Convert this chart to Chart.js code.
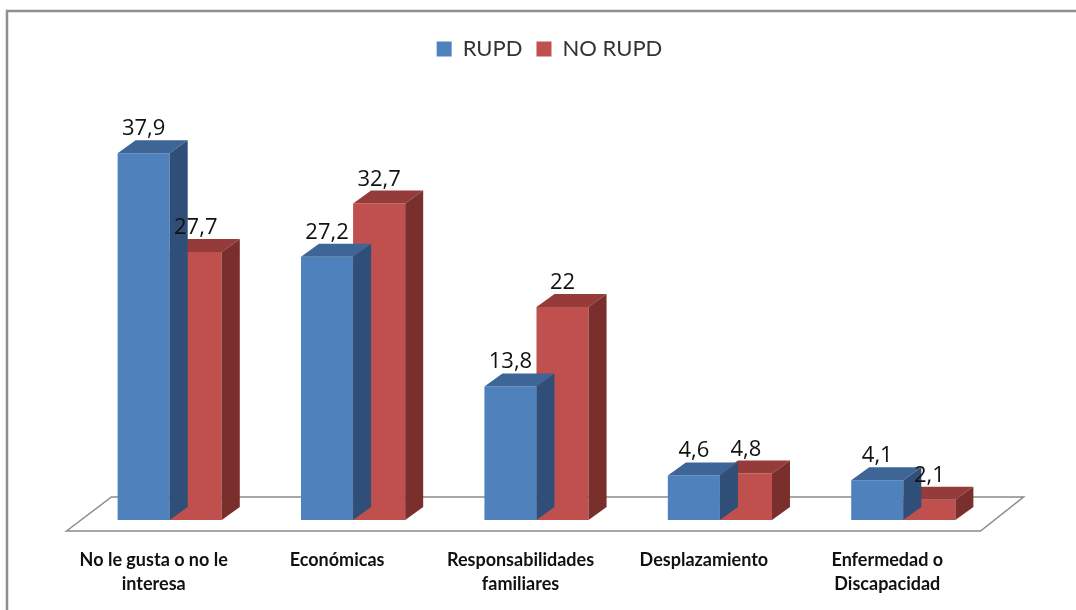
<!DOCTYPE html>
<html>
<head>
<meta charset="utf-8">
<script src="https://cdn.jsdelivr.net/npm/chart.js@4/dist/chart.umd.min.js"></script>
<style>
  html, body { margin: 0; padding: 0; background: #fff; overflow: hidden; }
  canvas { display: block; }
</style>
</head>
<body>
<canvas id="chart" width="1076" height="610"></canvas>
<script>
// data
const categories = [
    ["No le gusta o no le", "interesa"],
    "Económicas",
    ["Responsabilidades", "familiares"],
    "Desplazamiento",
    ["Enfermedad o", "Discapacidad"]
];
const seriesNames = ["RUPD", "NO RUPD"];
const rupd = [37.9, 27.2, 13.8, 4.6, 4.1];
const noRupd = [27.7, 32.7, 22, 4.8, 2.1];

// colours: front, top, side
const frontColors = ["#4F81BD", "#C0504D"];
const topColors = ["#3D6595", "#953C3A"];
const sideColors = ["#2F4F78", "#7A2F2D"];

const DX = 18, DY = 13; // 3d depth

/* frame round the chart */
const framePlugin = {
    id: "frame",
    afterLayout(chart) {
        // legend sits a little right of centre in the original
        chart.legend.left += 13;
        chart.legend.right += 13;
    },
    beforeDraw(chart) {
        const ctx = chart.ctx;
        ctx.save();
        ctx.strokeStyle = "#8f8f8f";
        ctx.lineWidth = 2.5;
        ctx.beginPath();
        ctx.moveTo(7, 610);
        ctx.lineTo(7, 11);
        ctx.lineTo(1076, 11);
        ctx.stroke();
        ctx.restore();
    }
};

/* floor under the bars */
const floorPlugin = {
    id: "floor",
    beforeDatasetsDraw(chart) {
        const { ctx, chartArea: ca } = chart;
        ctx.save();
        ctx.strokeStyle = "#8a8a8a";
        ctx.lineWidth = 1.5;
        ctx.fillStyle = "#fff";
        ctx.beginPath();
        ctx.moveTo(ca.left - 11.5, ca.bottom + 11);
        ctx.lineTo(ca.left + 33.5, ca.bottom - 23);
        ctx.lineTo(ca.right + 28.5, ca.bottom - 23);
        ctx.lineTo(ca.right - 14.5, ca.bottom + 11);
        ctx.closePath();
        ctx.fill();
        ctx.stroke();
        ctx.restore();
    }
};

/* top and side faces of each bar */
const boxPlugin = {
    id: "box3d",
    afterDatasetDraw(chart, args) {
        const ctx = chart.ctx;
        const i = args.index;
        ctx.save();
        args.meta.data.forEach(bar => {
            const l = bar.x - bar.width / 2;
            const r = bar.x + bar.width / 2;
            const t = bar.y, b = bar.base;

            ctx.fillStyle = topColors[i];
            ctx.beginPath();
            ctx.moveTo(l, t);
            ctx.lineTo(l + DX, t - DY);
            ctx.lineTo(r + DX, t - DY);
            ctx.lineTo(r, t);
            ctx.closePath();
            ctx.fill();

            ctx.fillStyle = sideColors[i];
            ctx.beginPath();
            ctx.moveTo(r, t);
            ctx.lineTo(r + DX, t - DY);
            ctx.lineTo(r + DX, b - DY);
            ctx.lineTo(r, b);
            ctx.closePath();
            ctx.fill();
        });
        ctx.restore();
    },
    afterDatasetsDraw(chart) {
        const ctx = chart.ctx;
        ctx.save();
        ctx.font = "22px 'Open Sans'";
        ctx.fillStyle = "#111";
        ctx.textAlign = "center";
        ctx.textBaseline = "alphabetic";
        chart.data.datasets.forEach((ds, i) => {
            chart.getDatasetMeta(i).data.forEach((bar, j) => {
                const txt = String(ds.data[j]).replace(".", ",");
                ctx.fillText(txt, bar.x, bar.y - DY - 5);
            });
        });
        ctx.restore();
    }
};

new Chart(document.getElementById("chart"), {
    type: "bar",
    data: {
        labels: categories,
        datasets: [
            {
                label: seriesNames[0],
                data: rupd,
                backgroundColor: frontColors[0],
                barPercentage: 1,
                categoryPercentage: 0.568
            },
            {
                label: seriesNames[1],
                data: noRupd,
                backgroundColor: frontColors[1],
                barPercentage: 1,
                categoryPercentage: 0.568
            }
        ]
    },
    options: {
        responsive: false,
        animation: false,
        layout: { padding: { left: 78, right: 81, top: 24, bottom: 0 } },
        plugins: {
            legend: {
                position: "top",
                labels: {
                    boxWidth: 15,
                    boxHeight: 15,
                    padding: 14,
                    color: "#333",
                    font: { family: "Lato", size: 22 }
                }
            },
            tooltip: { enabled: false }
        },
        scales: {
            x: {
                grid: { display: false },
                border: { display: false },
                afterFit(scale) { scale.height = 90; },
                ticks: {
                    color: "#111",
                    font: { family: "Lato", size: 18, weight: "bold", lineHeight: 1.33 },
                    padding: 20,
                    labelOffset: -16,
                    autoSkip: false,
                    maxRotation: 0
                }
            },
            y: {
                display: false,
                min: 0,
                max: 46.5
            }
        }
    },
    plugins: [framePlugin, floorPlugin, boxPlugin]
});
</script>
</body>
</html>
